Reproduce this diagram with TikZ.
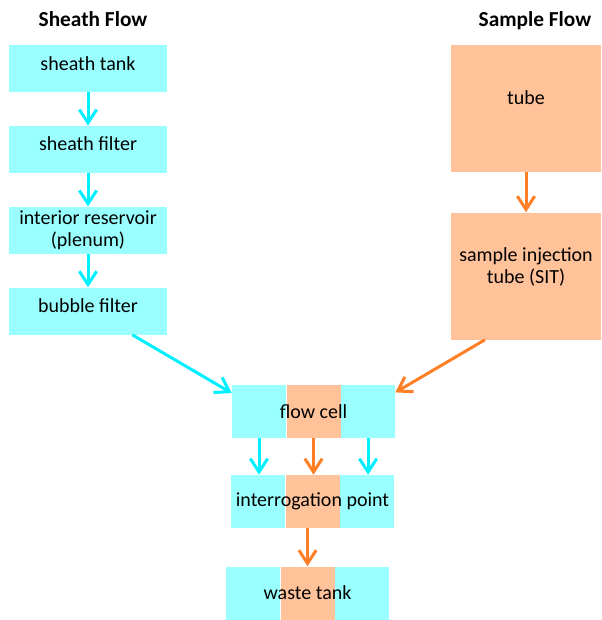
\documentclass[tikz,border=0pt]{standalone}
\usepackage{fontspec}
\setmainfont{Carlito}
\usepackage{xcolor}
\usetikzlibrary{arrows.meta, positioning, calc}

\definecolor{sheathfill}{HTML}{99FFFF}
\definecolor{samplefill}{HTML}{FFC299}
\definecolor{sheathline}{HTML}{00F0FF}
\definecolor{sampleline}{HTML}{FF7F27}

\begin{document}
\begin{tikzpicture}[
  x=0.75pt, y=-0.75pt,
  node distance=25pt,
  every node/.style={font=\fontsize{15}{16.5}\selectfont},
  box/.style={align=center, inner sep=2pt},
  sheath/.style={box, fill=sheathfill, minimum width=118.5pt, minimum height=35.25pt},
  sample/.style={box, fill=samplefill, minimum width=112.5pt, minimum height=95.25pt, text depth=16pt},
  raised/.style={text depth=8pt},
  cpart/.style={fill=sheathfill, minimum width=40.5pt, minimum height=39.75pt, inner sep=0pt},
  opart/.style={cpart, fill=samplefill},
  title/.style={font=\fontsize{16}{19}\selectfont\bfseries},
  carr/.style={-{Straight Barb[length=10pt, width=13pt]}, line width=2.25pt, sheathline},
  oarr/.style={-{Straight Barb[length=10pt, width=13pt]}, line width=2.25pt, sampleline},
]
\useasboundingbox (0,0) rectangle (602,620);

% sheath side
\node[title] (sheathtitle) at (93,19) {Sheath Flow};
\node[sheath, raised] (tank) at (88,68.5) {sheath tank};
\node[sheath, raised, below=of tank] (filter) {sheath filter};
\node[sheath, below=of filter] (plenum) {interior reservoir\\(plenum)};
\node[sheath, raised, below=of plenum] (bubble) {bubble filter};

% sample side
\node[title] (sampletitle) at (535,21) {Sample Flow};
\node[sample] (tube) at (526,108.5) {tube};
\node[sample, below=30pt of tube] (sit) {sample injection\\tube (SIT)};

% flow cell
\node[cpart] (fcL) at (259,411.5) {};
\node[opart, right=0pt of fcL] (fcM) {};
\node[cpart, right=0pt of fcM] (fcR) {};
\node (fc) at (fcM) {flow cell};

\node[cpart] (ipL) at (258,501.5) {};
\node[opart, right=0pt of ipL] (ipM) {};
\node[cpart, right=0pt of ipM] (ipR) {};
\node (ip) at (ipM) {interrogation point};

\node[cpart] (wtL) at (253,593) {};
\node[opart, right=0pt of wtL] (wtM) {};
\node[cpart, right=0pt of wtM] (wtR) {};
\node (wt) at (wtM) {waste tank};

\draw[carr] (tank) -- (filter);
\draw[carr] (filter) -- (plenum);
\draw[carr] (plenum) -- (bubble);
\draw[oarr] (tube) -- (sit);

\draw[carr] ($(bubble.south east)!0.22!(bubble.south west)$) -- (fcL.146);
\draw[oarr] ($(sit.south west)!0.227!(sit.south east)$) -- (fcR.35);

\draw[carr] (fcL.south) -- (fcL.south |- ipL.north);
\draw[oarr] (fcM.south) -- (fcM.south |- ipM.north);
\draw[carr] (fcR.south) -- (fcR.south |- ipR.north);
\draw[oarr] (wtM.north |- ipM.south) -- (wtM.north);
\end{tikzpicture}
\end{document}
